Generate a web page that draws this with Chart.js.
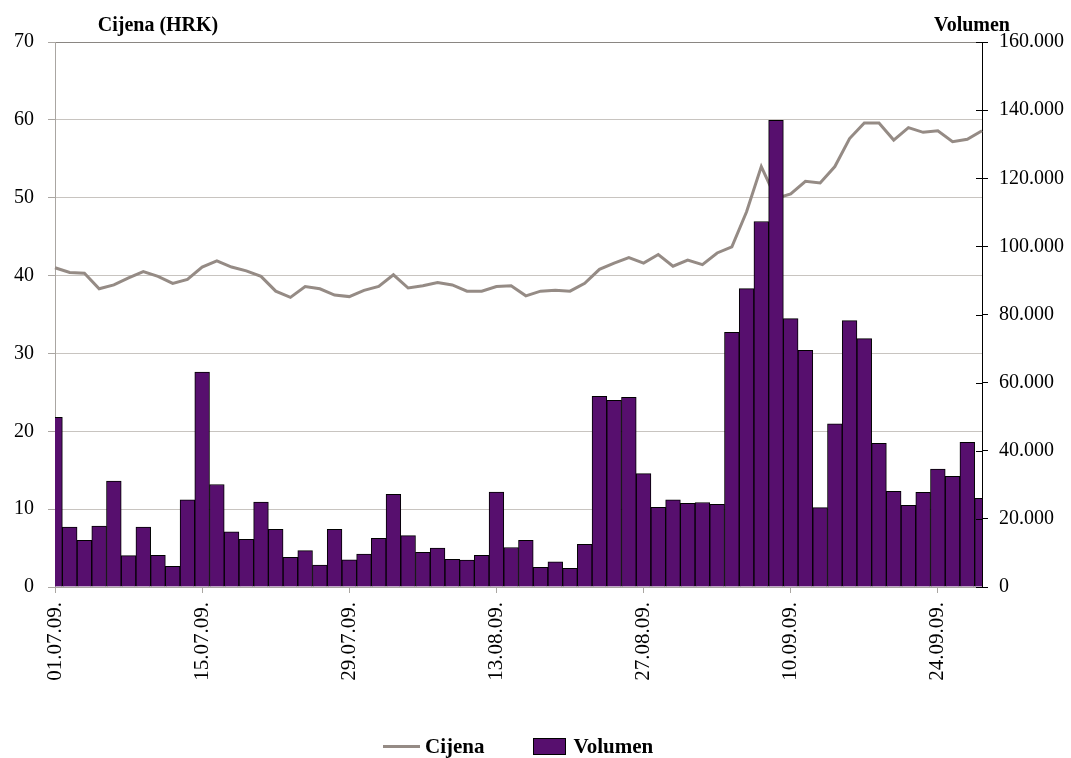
<!DOCTYPE html>
<html>
<head>
<meta charset="utf-8">
<script src="https://cdn.jsdelivr.net/npm/chart.js@4.4.1/dist/chart.umd.min.js"></script>
<style>
html, body { margin: 0; padding: 0; background: #fff; }
#wrap { position: relative; width: 1071px; height: 758px; }
#legend { position: absolute; left: 383px; top: 735px; height: 22px; display: flex; align-items: center;
  font: bold 21px "Liberation Serif", serif; color: #000; }
#legend .line { width: 37px; height: 3px; background: #958b85; margin-right: 5px; }
#legend .box { width: 31px; height: 15px; background: #570f6e; border: 1px solid #000; margin: 0 8px 0 48px; }
</style>
</head>
<body>
<div id="wrap">
  <canvas id="chart" width="1071" height="758"></canvas>
  <div id="legend"><span class="line"></span><span>Cijena</span><span class="box"></span><span>Volumen</span></div>
</div>
<script>
// trading days, 01.07.2009 - 29.09.2009
var dates = [
    '01.07.09.', '02.07.09.', '03.07.09.', '06.07.09.', '07.07.09.', '08.07.09.', '09.07.09.', '10.07.09.',
    '13.07.09.', '14.07.09.', '15.07.09.', '16.07.09.', '17.07.09.', '20.07.09.', '21.07.09.', '22.07.09.',
    '23.07.09.', '24.07.09.', '27.07.09.', '28.07.09.', '29.07.09.', '30.07.09.', '31.07.09.',
    '03.08.09.', '04.08.09.', '06.08.09.', '07.08.09.', '10.08.09.', '11.08.09.', '12.08.09.', '13.08.09.',
    '14.08.09.', '17.08.09.', '18.08.09.', '19.08.09.', '20.08.09.', '21.08.09.', '24.08.09.', '25.08.09.',
    '26.08.09.', '27.08.09.', '28.08.09.', '31.08.09.',
    '01.09.09.', '02.09.09.', '03.09.09.', '04.09.09.', '07.09.09.', '08.09.09.', '09.09.09.', '10.09.09.',
    '11.09.09.', '14.09.09.', '15.09.09.', '16.09.09.', '17.09.09.', '18.09.09.', '21.09.09.', '22.09.09.',
    '23.09.09.', '24.09.09.', '25.09.09.', '28.09.09.', '29.09.09.'
];

// price in HRK
var cijena = [
    41.0, 40.4, 40.3, 38.3, 38.8, 39.7, 40.5, 39.9, 39.0, 39.5,
    41.1, 41.9, 41.1, 40.6, 39.9, 38.0, 37.2, 38.6, 38.3, 37.5,
    37.3, 38.1, 38.6, 40.1, 38.4, 38.7, 39.1, 38.8, 38.0, 38.0,
    38.6, 38.7, 37.4, 38.0, 38.1, 38.0, 39.0, 40.8, 41.6, 42.3,
    41.6, 42.7, 41.2, 42.0, 41.4, 42.9, 43.7, 48.2, 54.0, 49.9,
    50.5, 52.1, 51.9, 54.0, 57.6, 59.6, 59.6, 57.4, 59.0, 58.4,
    58.6, 57.2, 57.5, 58.6
];

// traded volume (shares)
var volumen = [
    49800, 17600, 13700, 17900, 31100, 9200, 17600, 9300, 6100, 25600,
    63100, 30100, 16200, 14000, 24900, 16900, 8700, 10700, 6400, 16900,
    8000, 9700, 14300, 27200, 15100, 10200, 11400, 8100, 7900, 9300,
    27900, 11600, 13700, 5800, 7400, 5500, 12500, 56000, 54800, 55700,
    33300, 23400, 25600, 24600, 24800, 24300, 74800, 87600, 107300, 137000,
    78800, 69500, 23300, 47900, 78200, 72900, 42200, 28100, 24000, 27800,
    34600, 32500, 42500, 26000
];

var priceAxis = { min: 0, max: 70, step: 10 };
var volumeAxis = { min: 0, max: 160000, step: 20000 };
var labelEvery = 10;

var serif = '"Liberation Serif", "Times New Roman", serif';

// axis titles on top and the crossing tick marks of the right axis
var extras = {
    id: 'extras',
    afterDraw: function(chart) {
        var ctx = chart.ctx;
        var y1 = chart.scales.y1;
        ctx.save();
        ctx.strokeStyle = '#000';
        ctx.lineWidth = 1;
        y1.ticks.forEach(function(t) {
            var py = Math.round(y1.getPixelForValue(t.value)) + 0.5;
            ctx.beginPath();
            ctx.moveTo(y1.left - 6, py);
            ctx.lineTo(y1.left, py);
            ctx.stroke();
        });
        ctx.fillStyle = '#000';
        ctx.font = 'bold 20px ' + serif;
        ctx.textAlign = 'center';
        ctx.textBaseline = 'alphabetic';
        ctx.fillText('Cijena (HRK)', 158, 31);
        ctx.fillText('Volumen', 972, 31);
        ctx.restore();
    }
};

var chart = new Chart(document.getElementById('chart'), {
    type: 'bar',
    data: {
        labels: dates,
        datasets: [{
            type: 'line',
            label: 'Cijena',
            data: cijena,
            yAxisID: 'y',
            borderColor: '#958b85',
            borderWidth: 3,
            pointRadius: 0,
            tension: 0,
            order: 2
        }, {
            type: 'bar',
            label: 'Volumen',
            data: volumen,
            yAxisID: 'y1',
            backgroundColor: '#570f6e',
            borderColor: '#000',
            borderWidth: 1,
            categoryPercentage: 1,
            barPercentage: 1,
            order: 1
        }]
    },
    options: {
        responsive: false,
        animation: false,
        devicePixelRatio: 1,
        layout: { padding: { top: 42, left: 0, right: 0, bottom: 0 } },
        plugins: {
            legend: { display: false },
            tooltip: { enabled: false }
        },
        scales: {
            x: {
                offset: false,
                grid: { offset: false, drawOnChartArea: false, color: '#aaa6a2', tickLength: 6 },
                border: { color: '#aaa6a2' },
                ticks: {
                    autoSkip: false,
                    maxRotation: 90,
                    minRotation: 90,
                    padding: 9,
                    color: '#000',
                    font: { family: serif, size: 21 },
                    callback: function(v, i) {
                        return i % labelEvery === 0 ? dates[i] : null;
                    }
                },
                afterFit: function(s) { s.height = 171; }
            },
            y: {
                position: 'left',
                min: priceAxis.min,
                max: priceAxis.max,
                ticks: {
                    stepSize: priceAxis.step,
                    padding: 14,
                    color: '#000',
                    font: { family: serif, size: 20 }
                },
                grid: {
                    color: function(c) { return c.tick && c.tick.value === priceAxis.max ? '#8a8682' : '#c8c4c0'; },
                    tickColor: '#aaa6a2',
                    tickLength: 7
                },
                border: { color: '#aaa6a2' },
                afterFit: function(s) { s.width = 55; }
            },
            y1: {
                position: 'right',
                min: volumeAxis.min,
                max: volumeAxis.max,
                ticks: {
                    stepSize: volumeAxis.step,
                    padding: 11,
                    color: '#000',
                    font: { family: serif, size: 20 },
                    callback: function(v) { return v.toLocaleString('de-DE'); }
                },
                grid: { drawOnChartArea: false, color: '#000', tickLength: 6 },
                border: { color: '#000' },
                afterFit: function(s) { s.width = 89; }
            }
        }
    },
    plugins: [extras]
});
</script>
</body>
</html>
